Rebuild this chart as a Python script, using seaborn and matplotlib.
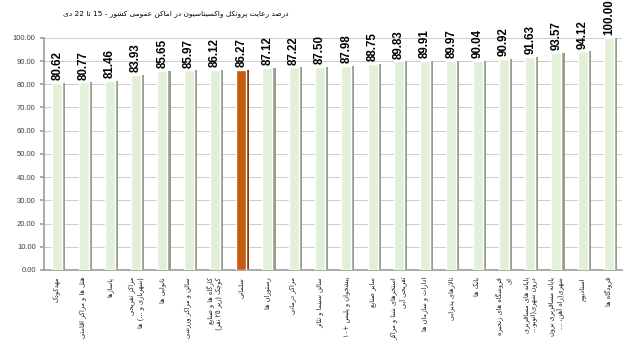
import re
import numpy as np
import pandas as pd
import matplotlib
matplotlib.use("Agg")
import matplotlib.pyplot as plt
import seaborn as sns

# ---------------- data ----------------
title = "درصد رعایت پروتکل واکسیناسیون در اماکن عمومی کشور - 15 تا 22 دی"
categories = [
    "مهدکودک",
    "هتل ها و مراکز اقامتی",
    "پاساژها",
    "مراکز تفریحی\n(شهربازی و ...) ها",
    "نانوایی ها",
    "سالن و مراکز ورزشی",
    "کارگاه ها و صنایع\nکوچک (زیر ۲۵ نفر)",
    "سلمانی",
    "رستوران ها",
    "مراکز درمانی",
    "سالن سینما و تئاتر",
    "پیشخوان و پلیس +۱۰",
    "سایر صنایع",
    "استخرهای شنا و مراکز\nتفریحی آبی",
    "ادارات و سازمان ها",
    "تالارهای پذیرایی",
    "بانک ها",
    "فروشگاه های زنجیره\nای",
    "پایانه های مسافربری\nدرون شهری(اتوبو...",
    "پایانه مسافربری برون\nشهری(راه آهن، ...",
    "استادیوم",
    "فرودگاه ها",
]
values = [80.62, 80.77, 81.46, 83.93, 85.65, 85.97, 86.12, 86.27, 87.12, 87.22,
          87.50, 87.98, 88.75, 89.83, 89.91, 89.97, 90.04, 90.92, 91.63, 93.57,
          94.12, 100.00]
highlight = "سلمانی"
yticks = list(range(0, 101, 10))

# ---------------- minimal Persian shaping + bidi ----------------
DUAL = {
    'ب': 0xFE8F, 'پ': 0xFB56, 'ت': 0xFE95, 'ث': 0xFE99, 'ج': 0xFE9D, 'چ': 0xFB7A,
    'ح': 0xFEA1, 'خ': 0xFEA5, 'س': 0xFEB1, 'ش': 0xFEB5, 'ص': 0xFEB9, 'ض': 0xFEBD,
    'ط': 0xFEC1, 'ظ': 0xFEC5, 'ع': 0xFEC9, 'غ': 0xFECD, 'ف': 0xFED1, 'ق': 0xFED5,
    'ک': 0xFB8E, 'گ': 0xFB92, 'ل': 0xFEDD, 'م': 0xFEE1, 'ن': 0xFEE5, 'ه': 0xFEE9,
    'ی': 0xFBFC, 'ئ': 0xFE89,
}
RIGHT = {
    'ا': 0xFE8D, 'آ': 0xFE81, 'د': 0xFEA9, 'ذ': 0xFEAB, 'ر': 0xFEAD, 'ز': 0xFEAF,
    'ژ': 0xFB8A, 'و': 0xFEED,
}
LAMALEF = {'ا': 0xFEFB, 'آ': 0xFEF5}


def shape(s):
    s = s.replace('ك', 'ک').replace('ي', 'ی')
    out = []
    i = 0
    n = len(s)
    while i < n:
        c = s[i]
        prev = s[i - 1] if i > 0 else ''
        joins_prev = prev in DUAL and (c in DUAL or c in RIGHT)
        if c == 'ل' and i + 1 < n and s[i + 1] in LAMALEF:
            base = LAMALEF[s[i + 1]]
            out.append(chr(base + (1 if joins_prev else 0)))
            i += 2
            continue
        if c in DUAL:
            nxt = s[i + 1] if i + 1 < n else ''
            joins_next = nxt in DUAL or nxt in RIGHT
            if joins_prev and joins_next:
                k = 3
            elif joins_prev:
                k = 1
            elif joins_next:
                k = 2
            else:
                k = 0
            out.append(chr(DUAL[c] + k))
        elif c in RIGHT:
            out.append(chr(RIGHT[c] + (1 if joins_prev else 0)))
        else:
            out.append(c)
        i += 1
    return ''.join(out)


MIRROR = {'(': ')', ')': '(', '[': ']', ']': '['}
LTR_RE = re.compile(r'[0-9۰-۹A-Za-z]+(?:[.,:][0-9۰-۹]+)*')


def visual_line(s):
    s = shape(s)
    tokens = []
    pos = 0
    for m in LTR_RE.finditer(s):
        if m.start() > pos:
            tokens.append((False, s[pos:m.start()]))
        tokens.append((True, m.group()))
        pos = m.end()
    if pos < len(s):
        tokens.append((False, s[pos:]))
    res = []
    for ltr, t in reversed(tokens):
        if ltr:
            res.append(t)
        else:
            res.append(''.join(MIRROR.get(ch, ch) for ch in reversed(t)))
    return ''.join(res)


def fa(s):
    return '\n'.join(visual_line(line) for line in s.split('\n'))


# ---------------- plot ----------------
sns.set_theme(style="white")
plt.rcParams['font.family'] = ['DejaVu Sans']

face_green = "#e2efd9"
side_green = "#959f8c"
face_orange = "#c55a11"
side_orange = "#843c0c"

df = pd.DataFrame({"category": categories, "value": values})
face_colors = [face_orange if c == highlight else face_green for c in categories]
side_colors = [side_orange if c == highlight else side_green for c in categories]

fig = plt.figure(figsize=(6.4, 3.47), dpi=100)
ax = fig.add_axes([0.069, 0.222, 0.903, 0.669])

sns.barplot(data=df, x="category", y="value", hue="category", palette=face_colors,
            width=0.38, saturation=1, legend=False, ax=ax, zorder=3)
xpos = np.arange(len(categories))
ax.bar(xpos + 0.25, values, width=0.12, color=side_colors, zorder=2, linewidth=0)

for x, v in zip(xpos, values):
    ax.text(x, v + 1.2, f"{v:.2f}", rotation=90, ha="center", va="bottom",
            fontsize=8.3, fontweight="bold", family="Liberation Sans", color="black")

ax.set_xlim(-0.5, len(categories) - 0.5)
ax.set_ylim(0, 100)
ax.set_yticks(yticks)
ax.set_yticklabels([f"{t:.2f}" for t in yticks], fontsize=5.5, family="Liberation Sans",
                   color="#404040")
ax.set_xticks(xpos)
ax.set_xticklabels([fa(c) for c in categories], rotation=90, fontsize=4.8,
                   ha="center", va="top", multialignment="right", color="#202020")
ax.set_xticks(np.arange(len(categories) + 1) - 0.5, minor=True)
ax.tick_params(axis="x", which="major", length=0, pad=5)
ax.tick_params(axis="x", which="minor", length=3, color="#a0a0a0", direction="out")
ax.tick_params(axis="y", length=3, color="#a0a0a0", direction="out", pad=3, left=True)
ax.grid(axis="y", color="#cccccc", linewidth=0.7, zorder=0)
ax.set_axisbelow(True)
ax.set_xlabel("")
ax.set_ylabel("")
for side in ["top", "right"]:
    ax.spines[side].set_visible(False)
ax.spines["left"].set_color("#a0a0a0")
ax.spines["bottom"].set_color("#a0a0a0")

fig.text(0.275, 0.957, fa(title), fontsize=5.3, ha="center", va="center", color="black")

fig.savefig("out.png", dpi=100, facecolor="white")
